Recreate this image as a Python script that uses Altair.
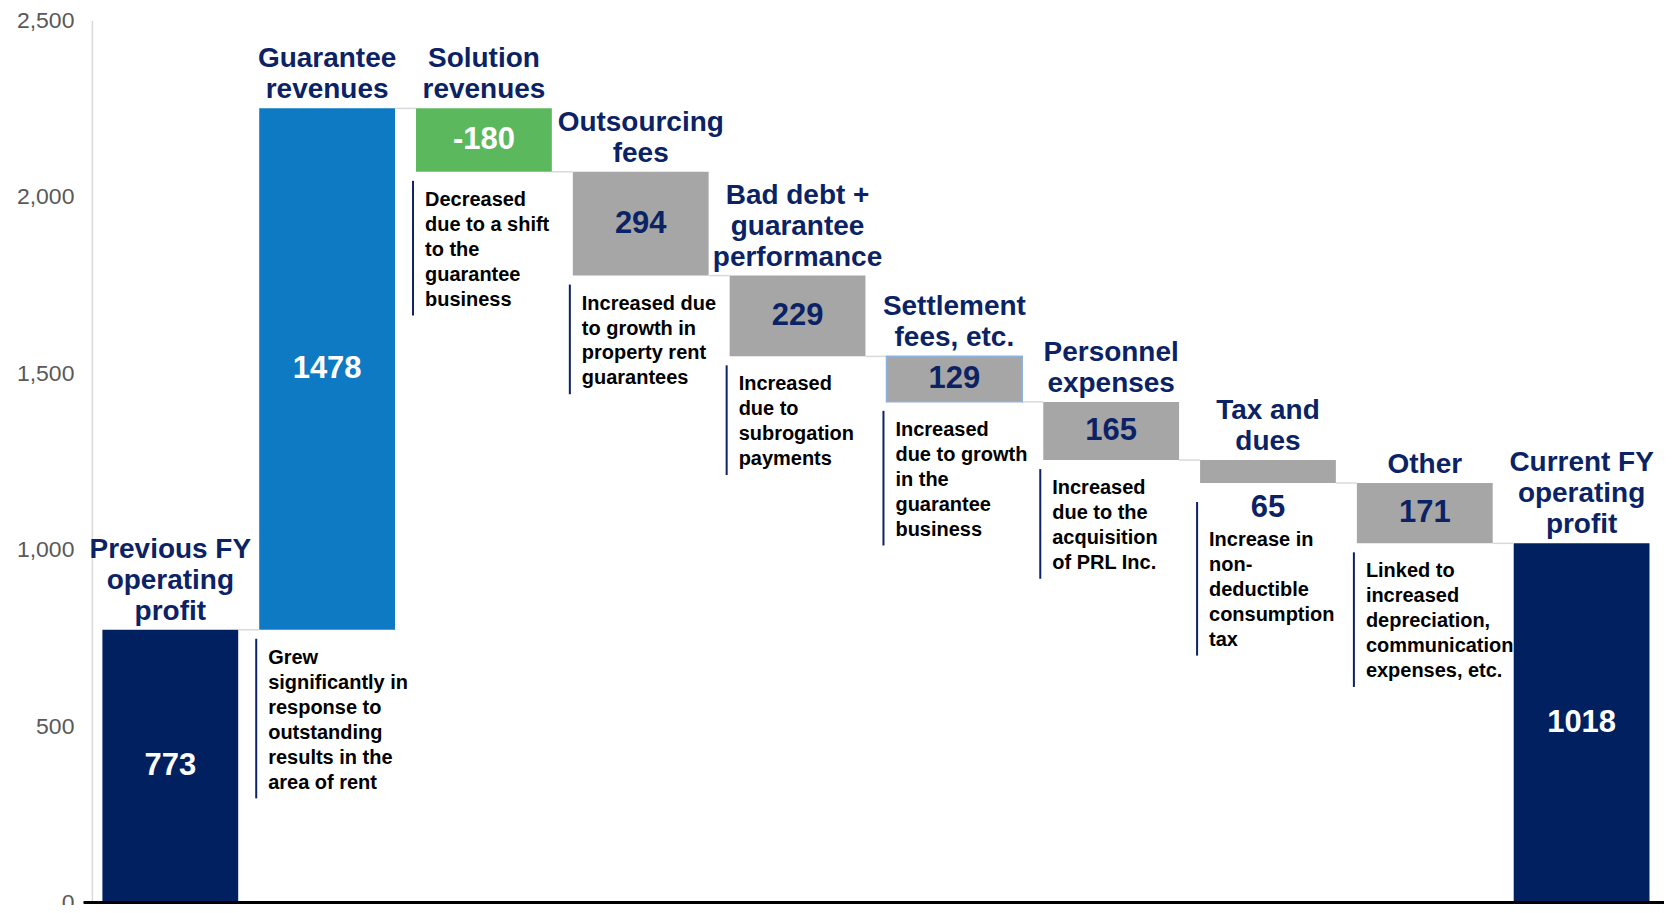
import altair as alt
import pandas as pd

# ---------------- data ----------------
categories = [
    "Previous FY operating profit", "Guarantee revenues", "Solution revenues",
    "Outsourcing fees", "Bad debt + guarantee performance", "Settlement fees, etc.",
    "Personnel expenses", "Tax and dues", "Other", "Current FY operating profit",
]
titles = [
    "Previous FY\noperating\nprofit", "Guarantee\nrevenues", "Solution\nrevenues",
    "Outsourcing\nfees", "Bad debt +\nguarantee\nperformance", "Settlement\nfees, etc.",
    "Personnel\nexpenses", "Tax and\ndues", "Other", "Current FY\noperating\nprofit",
]
shown_values = [773, 1478, -180, 294, 229, 129, 165, 65, 171, 1018]
kinds = ["total", "revenue", "revenue", "expense", "expense", "expense",
         "expense", "expense", "expense", "total"]
notes = [
    None,
    "Grew\nsignificantly in\nresponse to\noutstanding\nresults in the\narea of rent",
    "Decreased\ndue to a shift\nto the\nguarantee\nbusiness",
    "Increased due\nto growth in\nproperty rent\nguarantees",
    "Increased\ndue to\nsubrogation\npayments",
    "Increased\ndue to growth\nin the\nguarantee\nbusiness",
    "Increased\ndue to the\nacquisition\nof PRL Inc.",
    "Increase in\nnon-\ndeductible\nconsumption\ntax",
    "Linked to\nincreased\ndepreciation,\ncommunication\nexpenses, etc.",
    None,
]
y_ticks = [0, 500, 1000, 1500, 2000, 2500]

# ---------------- layout / style ----------------
W, H = 1570, 883
Y_MAX = 2500
PX = Y_MAX / H  # data units per pixel
FONT = "Liberation Sans"
NAVY = "#0b2265"
FILL = {"total": "#002060", "up": "#0f7ac4", "down": "#5cb85c", "expense": "#a6a6a6"}
LABEL = {"total": "#ffffff", "up": "#ffffff", "down": "#ffffff", "expense": NAVY}
TITLE_LH = 31
NOTE_FS = 20
NOTE_LH = 25

rows, notes_rows, conn_rows = [], [], []
running = 0
ends = []
for i, cat in enumerate(categories):
    v, kind = shown_values[i], kinds[i]
    if kind == "total":
        start, end = 0, v
        style = "total"
    else:
        delta = v if kind == "revenue" else -v
        start, end = running, running + delta
        style = "expense" if kind == "expense" else ("up" if delta > 0 else "down")
    running = end
    ends.append(end)
    low, high = min(start, end), max(start, end)
    thin = (high - low) / PX < 35
    n_title = titles[i].count("\n") + 1
    rows.append(dict(
        cat=cat, title=titles[i], label=str(v), low=low, high=high,
        fill_color=FILL[style], label_color=LABEL[style],
        label_y=(low + high) / 2 if not thin else low - 25 * PX,
        title_y=high + (10 + (n_title - 1) * TITLE_LH + 22) * PX,
    ))
    if notes[i]:
        n = notes[i].count("\n") + 1
        top_gap = 19 if thin else 9
        anchor_gap = 47 if thin else 18
        last_base = anchor_gap + 0.79 * NOTE_FS + (n - 1) * NOTE_LH
        notes_rows.append(dict(
            cat=cat, note=notes[i],
            note_y=low - anchor_gap * PX,
            rule_top=low - top_gap * PX,
            rule_bot=low - (last_base + 10) * PX,
        ))

for i in range(len(categories) - 1):
    conn_rows.append(dict(cat=categories[i], nxt=categories[i + 1], level=ends[i]))

df = pd.DataFrame(rows)
df_notes = pd.DataFrame(notes_rows)
df_conn = pd.DataFrame(conn_rows)

xs = alt.Scale(domain=categories, paddingInner=0.134, paddingOuter=0.067)
ys = alt.Scale(domain=[0, Y_MAX], nice=False, zero=True)
BW = 0.866 * W / len(categories)  # bandwidth in px

def X(band=None):
    if band is None:
        return alt.X("cat:N", scale=xs, axis=None, sort=categories)
    return alt.X("cat:N", scale=xs, axis=None, sort=categories, bandPosition=band)

def Y(field):
    return alt.Y(field, scale=ys, title=None)

bars = alt.Chart(df).mark_bar().encode(
    x=X(),
    y=alt.Y("low:Q", scale=ys, title=None,
            axis=alt.Axis(values=y_ticks, format=",d", title=None)),
    y2="high:Q",
    fill=alt.Fill("fill_color:N", scale=None),
)

connectors = alt.Chart(df_conn).mark_rule(
    color="#d9d9d9", strokeWidth=1.5, xOffset=BW / 2, x2Offset=-BW / 2
).encode(x=X(), x2="nxt:N", y=Y("level:Q"))

settle_edge = alt.Chart(df).transform_filter(
    alt.datum.cat == categories[5]
).mark_bar(filled=False, stroke="#8db3e2", strokeWidth=1.5).encode(
    x=X(), y=Y("low:Q"), y2="high:Q",
)

values = alt.Chart(df).mark_text(
    font=FONT, fontSize=31, fontWeight="bold", baseline="middle", align="center"
).encode(
    x=X(), y=Y("label_y:Q"), text="label:N",
    fill=alt.Fill("label_color:N", scale=None),
)

title_text = alt.Chart(df).mark_text(
    font=FONT, fontSize=28, fontWeight="bold", baseline="top", align="center",
    lineBreak="\n", lineHeight=TITLE_LH, color=NAVY,
).encode(x=X(), y=Y("title_y:Q"), text="title:N")

note_rules = alt.Chart(df_notes).mark_rule(
    color=NAVY, strokeWidth=2, xOffset=-3
).encode(x=X(0), y=Y("rule_top:Q"), y2="rule_bot:Q")

note_text = alt.Chart(df_notes).mark_text(
    font=FONT, fontSize=NOTE_FS, fontWeight="bold", baseline="top", align="left",
    lineBreak="\n", lineHeight=NOTE_LH, color="#000000", dx=9,
).encode(x=X(0), y=Y("note_y:Q"), text="note:N")

# x-axis base line along the bottom of the plot area
baseline = alt.Chart(df).mark_rule(color="#000000", strokeWidth=2).encode(
    x=alt.value(-8), x2=alt.value(W + 4), y=alt.value(H),
)

chart = alt.layer(
    bars, connectors, settle_edge, values, title_text, note_rules, note_text, baseline
).properties(
    width=W, height=H,
    autosize=alt.AutoSizeParams(type="none"),
    padding={"left": 84, "top": 12, "right": 4, "bottom": 2},
).configure_view(stroke=None).configure_axisY(
    labelFontSize=23, labelColor="#595959", labelFont=FONT, ticks=False,
    grid=False, domainColor="#d9d9d9", domainWidth=1.5, labelPadding=18,
    labelOverlap=False,
)

chart.save("out.html", embed_options={"renderer": "svg", "actions": False})
